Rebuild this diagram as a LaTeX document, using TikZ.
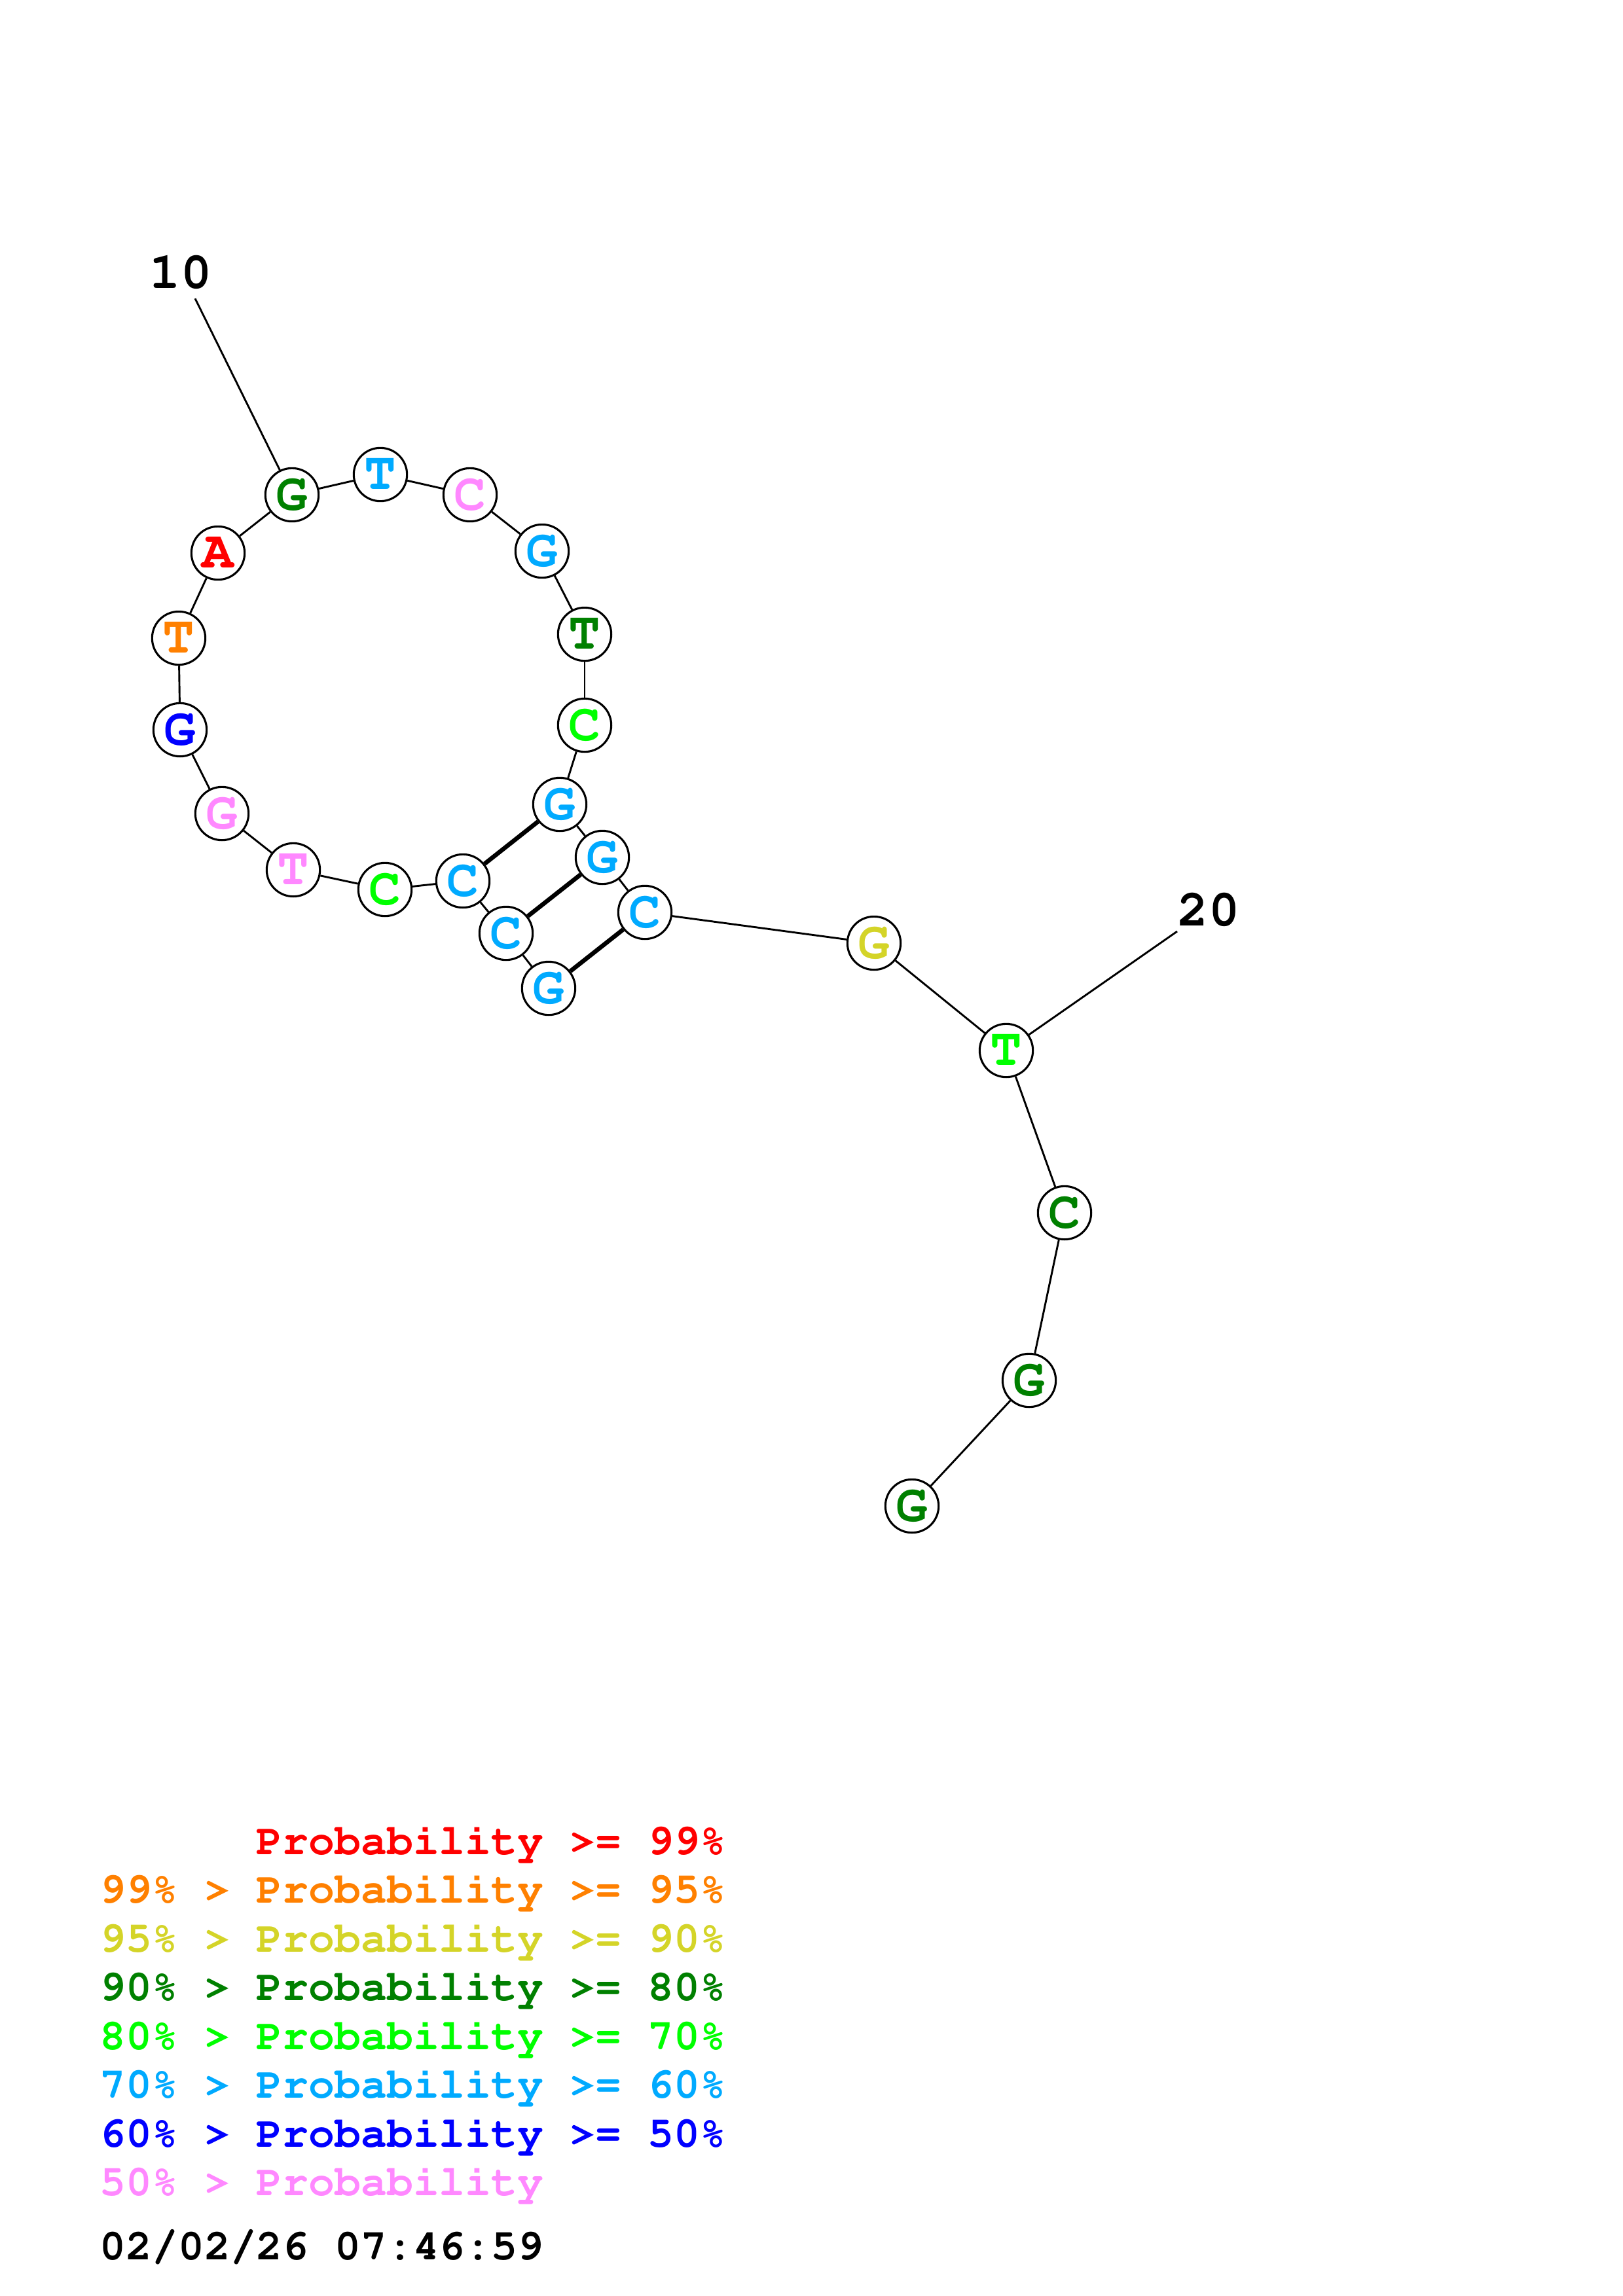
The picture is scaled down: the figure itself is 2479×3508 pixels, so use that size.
\documentclass[tikz,border=0pt]{standalone}
\usepackage[T1]{fontenc}
\usepackage{courier}
\definecolor{pred}{RGB}{255,0,0}
\definecolor{porange}{RGB}{255,128,0}
\definecolor{pyellow}{RGB}{212,212,40}
\definecolor{pdkgreen}{RGB}{0,128,0}
\definecolor{pgreen}{RGB}{0,255,0}
\definecolor{psky}{RGB}{0,170,255}
\definecolor{pblue}{RGB}{0,0,255}
\definecolor{ppink}{RGB}{255,136,255}

\begin{document}
\begin{tikzpicture}[
	x=0.2409pt, y=-0.2409pt,
	base/.style={circle, draw, fill=white, line width=0.75pt, inner sep=0pt,
		minimum size=19.6pt, font=\fontsize{19.5}{20}\ttfamily\bfseries},
	chain/.style={line width=0.7pt},
	pair/.style={line width=1.6pt},
	numlabel/.style={inner sep=0pt, font=\fontsize{19}{20}\ttfamily\bfseries},
	legend/.style={anchor=base west, inner sep=0pt,
		font=\fontsize{16}{18}\ttfamily\bfseries},
]
\useasboundingbox (0,0) rectangle (2479,3508);
% Input 1: colour, input 2: position, input 3: name, input 4: base.
\def\nuc#1[#2](#3)#4{
	\node[base, text=#1] at (#2) (#3) {#4};
}
% \link{a}{b}: backbone, \bond{a}{b}: base pair.
\def\link#1#2{
	\draw[chain] (#1) -- (#2);
}
\def\bond#1#2{
	\draw[pair] (#1) -- (#2);
}
	\nuc{psky}[838,1510](n1){G}
	\nuc{psky}[773,1426](n2){C}
	\nuc{psky}[707,1346](n3){C}
	\nuc{pgreen}[588,1359](n4){C}
	\nuc{ppink}[448,1329](n5){T}
	\nuc{ppink}[339,1243](n6){G}
	\nuc{pblue}[275,1115](n7){G}
	\nuc{porange}[273,975](n8){T}
	\nuc{pred}[333,845](n9){A}
	\nuc{pdkgreen}[446,756](n10){G}
	\nuc{psky}[581,725](n11){T}
	\nuc{ppink}[718,756](n12){C}
	\nuc{psky}[828,842](n13){G}
	\nuc{pdkgreen}[893,969](n14){T}
	\nuc{pgreen}[893,1108](n15){C}
	\nuc{psky}[855,1229](n16){G}
	\nuc{psky}[920,1310](n17){G}
	\nuc{psky}[985,1394](n18){C}
	\nuc{pyellow}[1335,1441](n19){G}
	\nuc{pgreen}[1537,1605](n20){T}
	\nuc{pdkgreen}[1626,1853](n21){C}
	\nuc{pdkgreen}[1572,2109](n22){G}
	\nuc{pdkgreen}[1393,2301](n23){G}

	\link{n1}{n2}
	\link{n2}{n3}
	\link{n3}{n4}
	\link{n4}{n5}
	\link{n5}{n6}
	\link{n6}{n7}
	\link{n7}{n8}
	\link{n8}{n9}
	\link{n9}{n10}
	\link{n10}{n11}
	\link{n11}{n12}
	\link{n12}{n13}
	\link{n13}{n14}
	\link{n14}{n15}
	\link{n15}{n16}
	\link{n16}{n17}
	\link{n17}{n18}
	\link{n18}{n19}
	\link{n19}{n20}
	\link{n20}{n21}
	\link{n21}{n22}
	\link{n22}{n23}

	\bond{n3}{n16}
	\bond{n2}{n17}
	\bond{n1}{n18}

	% numbering
	\node[numlabel] at (276,416) (lab10) {10};
	\coordinate (tip10) at (298,456);
	\link{tip10}{n10}
	\node[numlabel] at (1846,1390) (lab20) {20};
	\coordinate (tip20) at (1798,1423);
	\link{tip20}{n20}

	% legend
	\node[legend, text=pred] at (152,2833) (leg1)
		{\phantom{99\% >} Probability >= 99\%};
	\node[legend, text=porange] at (152,2907) (leg2)
		{99\% > Probability >= 95\%};
	\node[legend, text=pyellow] at (152,2982) (leg3)
		{95\% > Probability >= 90\%};
	\node[legend, text=pdkgreen] at (152,3056) (leg4)
		{90\% > Probability >= 80\%};
	\node[legend, text=pgreen] at (152,3131) (leg5)
		{80\% > Probability >= 70\%};
	\node[legend, text=psky] at (152,3205) (leg6)
		{70\% > Probability >= 60\%};
	\node[legend, text=pblue] at (152,3280) (leg7)
		{60\% > Probability >= 50\%};
	\node[legend, text=ppink] at (152,3354) (leg8)
		{50\% > Probability};
	\node[legend, text=black] at (152,3452) (date)
		{02/02/26 07:46:59};
\end{tikzpicture}
\end{document}
